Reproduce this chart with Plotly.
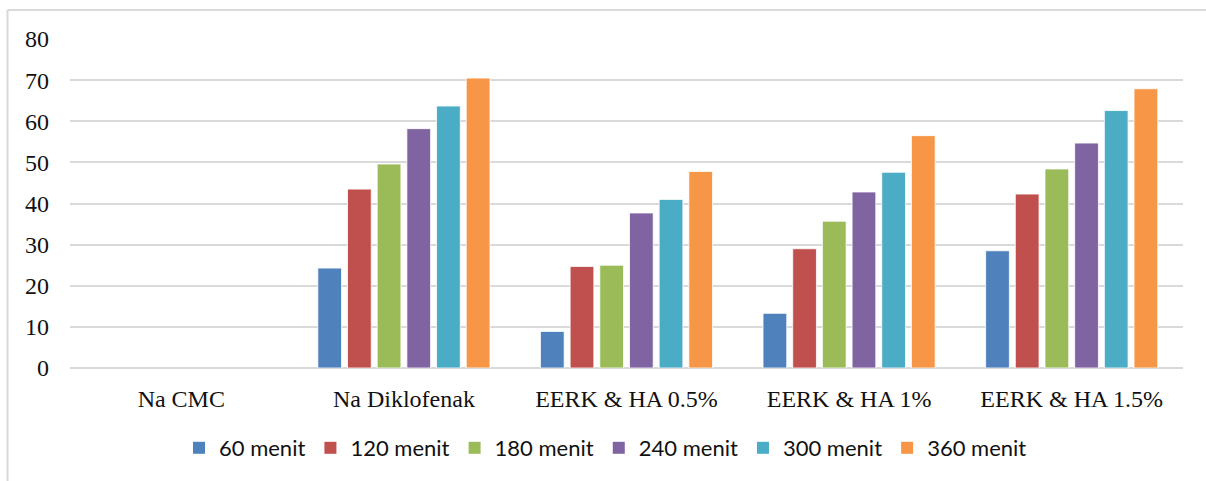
import plotly.graph_objects as go

# Categories (formulations) and release values per sampling time
categories = ["Na CMC", "Na Diklofenak", "EERK & HA 0.5%", "EERK & HA 1%", "EERK & HA 1.5%"]
series_names = ["60 menit", "120 menit", "180 menit", "240 menit", "300 menit", "360 menit"]

menit_60 = [0, 24.3, 8.9, 13.3, 28.5]
menit_120 = [0, 43.5, 24.7, 29.0, 42.3]
menit_180 = [0, 49.6, 25.0, 35.7, 48.4]
menit_240 = [0, 58.2, 37.7, 42.8, 54.7]
menit_300 = [0, 63.7, 41.0, 47.6, 62.6]
menit_360 = [0, 70.5, 47.8, 56.5, 67.9]

y_ticks = [0, 10, 20, 30, 40, 50, 60, 70, 80]

series_values = [menit_60, menit_120, menit_180, menit_240, menit_300, menit_360]
colors = ["#4F81BD", "#C0504D", "#9BBB59", "#8064A2", "#4BACC6", "#F79646"]

fig = go.Figure()
for name, vals, col in zip(series_names, series_values, colors):
    fig.add_trace(go.Bar(
        x=categories, y=vals, name=name,
        marker=dict(
            color=col,
            # thin light outline, none on empty bars
            line=dict(color="rgba(255,255,255,0.8)", width=[0 if v == 0 else 1 for v in vals]),
        ),
    ))

W, H = 1206, 481
ml, mr, mt, mb = 70, 23, 39, 113
pw = W - ml - mr
ph = H - mt - mb

def px_x(p):
    return (p - ml) / pw

def px_y(p):
    return (H - mb - p) / ph

fig.update_layout(
    width=W, height=H,
    margin=dict(l=ml, r=mr, t=mt, b=mb),
    paper_bgcolor="white", plot_bgcolor="white",
    barmode="group", bargap=0.2, bargroupgap=0.2,
    font=dict(family="Liberation Serif, Times New Roman, serif", size=24, color="#111"),
    legend=dict(
        orientation="h", x=px_x(179), xanchor="left", y=px_y(448), yanchor="middle",
        font=dict(family="Lato, Carlito, sans-serif", size=22, color="#111"),
        itemwidth=30, traceorder="normal", bgcolor="rgba(0,0,0,0)",
    ),
    xaxis=dict(
        showgrid=False, showline=False, zeroline=False, ticks="",
        ticklabelstandoff=14, fixedrange=True,
    ),
    yaxis=dict(
        range=[0, 80], tickvals=y_ticks, showgrid=True, gridcolor="#D9D9D9", gridwidth=1.5,
        zeroline=True, zerolinecolor="#D9D9D9", zerolinewidth=1.5, showline=False,
        ticks="", ticklabelstandoff=20, fixedrange=True,
    ),
    shapes=[
        dict(type="line", xref="paper", yref="paper",
             x0=px_x(7.5), x1=px_x(1230), y0=px_y(10), y1=px_y(10),
             line=dict(color="#D9D9D9", width=2)),
        dict(type="line", xref="paper", yref="paper",
             x0=px_x(7.5), x1=px_x(7.5), y0=px_y(10), y1=px_y(500),
             line=dict(color="#D9D9D9", width=2)),
    ],
    showlegend=True,
)

fig.write_html("out.html")
